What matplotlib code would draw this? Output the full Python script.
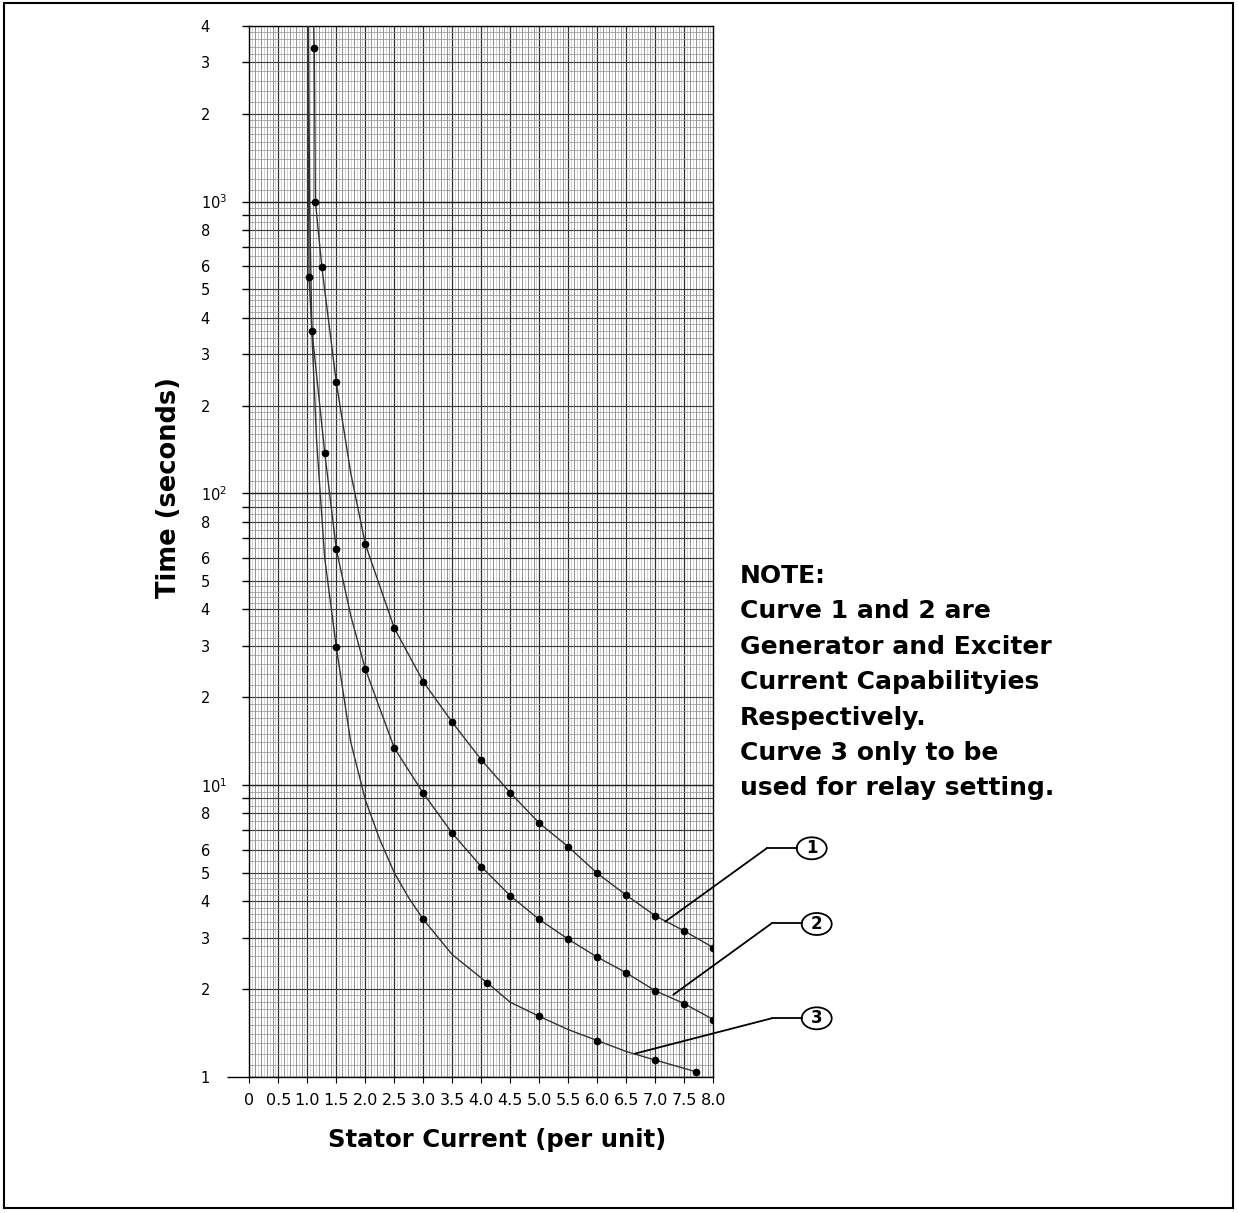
import numpy as np
import matplotlib.pyplot as plt
from matplotlib.patches import Ellipse, Rectangle
from matplotlib.lines import Line2D
from matplotlib.ticker import FixedLocator, FixedFormatter, NullLocator

# dots: stator current (pu) and time (s)
cur_1 = [1.12, 1.14, 1.25, 1.5, 2.0, 2.5, 3.0, 3.5, 4.0, 4.5, 5.0, 5.5, 6.0, 6.5, 7.0, 7.5, 8.0]
time_1 = [3370, 1000, 598, 240, 67, 34.5, 22.6, 16.4, 12.2, 9.4, 7.4, 6.14, 4.98, 4.19, 3.56, 3.16, 2.77]

cur_2 = [1.03, 1.08, 1.3, 1.5, 2.0, 2.5, 3.0, 3.5, 4.0, 4.5, 5.0, 5.5, 6.0, 6.5, 7.0, 7.5, 8.0]
time_2 = [550, 361, 138, 64.3, 25, 13.4, 9.37, 6.83, 5.25, 4.17, 3.46, 2.96, 2.57, 2.27, 1.97, 1.78, 1.57]

cur_3 = [1.5, 3.0, 4.1, 5.0, 6.0, 7.0, 7.7]
time_3 = [29.7, 3.46, 2.10, 1.61, 1.33, 1.14, 1.04]

# points on the drawn lines where there is no dot
trace_cur_1 = [1.11, 1.75]
trace_time_1 = [4000, 117]
trace_cur_2 = [1.01, 1.75]
trace_time_2 = [4000, 38]
trace_cur_3 = [1.02, 1.04, 1.08, 1.16, 1.3, 1.75, 2.0, 2.25, 2.5, 2.75, 3.5, 4.5, 5.5, 6.5]
trace_time_3 = [4000, 1000, 350, 152, 60, 14, 8.9, 6.5, 5.0, 4.1, 2.62, 1.80, 1.45, 1.22]

curve_names = ['1', '2', '3']
# where each leader line touches its curve
leader_cur = [7.17, 7.31, 6.65]
leader_time = [3.40, 1.91, 1.20]

xticks = [0, 0.5, 1.0, 1.5, 2.0, 2.5, 3.0, 3.5, 4.0, 4.5, 5.0, 5.5, 6.0, 6.5, 7.0, 7.5, 8.0]
xtick_labels = ['0', '0.5', '1.0', '1.5', '2.0', '2.5', '3.0', '3.5', '4.0', '4.5',
                '5.0', '5.5', '6.0', '6.5', '7.0', '7.5', '8.0']

yticks = [1, 2, 3, 4, 5, 6, 7, 8, 9,
          10, 20, 30, 40, 50, 60, 70, 80, 90,
          100, 200, 300, 400, 500, 600, 700, 800, 900,
          1000, 2000, 3000, 4000]
ytick_labels = ['1', '2', '3', '4', '5', '6', '', '8', '',
                '$10^{1}$', '2', '3', '4', '5', '6', '', '8', '',
                '$10^{2}$', '2', '3', '4', '5', '6', '', '8', '',
                '$10^{3}$', '2', '3', '4']

note = ("NOTE:\nCurve 1 and 2 are\nGenerator and Exciter\nCurrent Capabilityies\n"
        "Respectively.\nCurve 3 only to be\nused for relay setting.")

W, H = 1238, 1213


def fx(px):
    return px / W


def fy(py):
    return 1 - py / H


fig = plt.figure(figsize=(W / 100, H / 100), dpi=100)
ax = fig.add_axes([fx(249.3), fy(1076.7), fx(713.3 - 249.3), (1076.7 - 26) / H])
ax.set_yscale('log')
ax.set_xlim(0, 8)
ax.set_ylim(1, 4000)

# graph paper
for v in np.arange(0.05, 8, 0.1):
    ax.axvline(v, color='#c4c4c4', lw=0.5, zorder=0)
for v in np.arange(0.1, 8, 0.1):
    ax.axvline(v, color='#7e7e7e', lw=0.6, zorder=0)
for v in np.arange(0.5, 8, 0.5):
    ax.axvline(v, color='#2e2e2e', lw=0.9, zorder=0)

subs = np.concatenate([np.arange(1.1, 2, 0.1), np.arange(2.2, 5, 0.2), np.arange(5.5, 10, 0.5)])
for dec in [1, 10, 100, 1000]:
    for m in subs:
        if dec * m < 4000:
            ax.axhline(dec * m, color='#909090', lw=0.5, zorder=0)
    for m in range(2, 10):
        if dec * m < 4000:
            ax.axhline(dec * m, color='#3c3c3c', lw=0.8, zorder=0)
    ax.axhline(dec, color='#1e1e1e', lw=1.0, zorder=0)

curves = [(cur_1, time_1, trace_cur_1, trace_time_1),
          (cur_2, time_2, trace_cur_2, trace_time_2),
          (cur_3, time_3, trace_cur_3, trace_time_3)]
for cx, cy, tx, ty in curves:
    lx = np.array(list(cx) + list(tx))
    ly = np.array(list(cy) + list(ty))
    order = np.argsort(lx)
    ax.plot(lx[order], ly[order], color='#333333', lw=1.0, zorder=3)
    ax.plot(cx, cy, 'o', color='black', ms=4.5, zorder=4)

ax.xaxis.set_major_locator(FixedLocator(xticks))
ax.xaxis.set_major_formatter(FixedFormatter(xtick_labels))
ax.yaxis.set_major_locator(FixedLocator(yticks))
ax.yaxis.set_major_formatter(FixedFormatter(ytick_labels))
ax.yaxis.set_minor_locator(NullLocator())
ax.xaxis.set_minor_locator(NullLocator())
ax.tick_params(axis='y', direction='out', length=5, width=1, labelsize=10.5, pad=30)
ax.tick_params(axis='x', direction='out', length=4, width=0.8, labelsize=11.5, pad=8)
for lbl in ax.get_yticklabels():
    lbl.set_horizontalalignment('left')
ax.yaxis.get_major_ticks()[0].tick1line.set_markersize(16)
for s in ax.spines.values():
    s.set_linewidth(1.0)

fig.text(fx(169), fy(487), 'Time (seconds)', rotation=90, ha='center', va='center',
         fontsize=18.5, fontweight='bold')
fig.text(fx(497), fy(1140), 'Stator Current (per unit)', ha='center', va='center',
         fontsize=17.6, fontweight='bold')
fig.text(fx(740), fy(564), note, ha='left', va='top', fontsize=18, fontweight='bold',
         linespacing=1.6)

# numbered leaders
knees = [(766.7, 848.3), (771.7, 923.3), (771.7, 1018.3)]
circles = [(811.7, 848.3), (816.7, 924.0), (816.7, 1018.3)]
for name, lc, lt, (kx, ky), (cx, cy) in zip(curve_names, leader_cur, leader_time, knees, circles):
    ax.annotate('', xy=(lc, lt), xycoords='data', xytext=(fx(kx), fy(ky)),
                textcoords='figure fraction',
                arrowprops=dict(arrowstyle='-', color='black', lw=1.3, shrinkA=0, shrinkB=0))
    fig.add_artist(Line2D([fx(kx), fx(cx - 15)], [fy(ky), fy(ky)], transform=fig.transFigure,
                          color='black', lw=1.3))
    fig.add_artist(Ellipse((fx(cx), fy(cy)), 30 / W, 22 / H, transform=fig.transFigure,
                           fill=False, ec='black', lw=1.3))
    fig.text(fx(cx), fy(cy), name, ha='center', va='center', fontsize=12, fontweight='bold')

fig.add_artist(Rectangle((fx(4), fy(1208)), fx(1229), (1208 - 3) / H, transform=fig.transFigure,
                         fill=False, ec='black', lw=1.5))

fig.savefig('out.png', dpi=100)
